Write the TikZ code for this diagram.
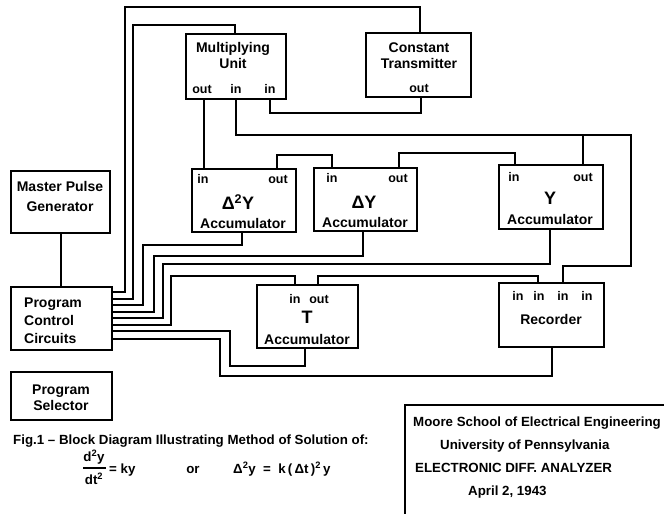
\documentclass[tikz,border=0pt]{standalone}
\usepackage{fontspec}
\setmainfont{Liberation Sans}
\newcommand{\mybox}[5]{\node[box, minimum width={(#4)-(#2)}, minimum height={(#5)-(#3)}] (#1) at ({((#2)+(#4))/2},{((#3)+(#5))/2}) {};}
\begin{document}
\begin{tikzpicture}[x=1pt,y=-1pt,
  box/.style={draw, line width=2.6pt, inner sep=0pt, outer sep=0pt},
  wire/.style={line width=1.9pt},
  lbl/.style={font=\bfseries\fontsize{14}{16}\selectfont, inner sep=0pt, text height=10pt, text depth=0pt},
  port/.style={font=\bfseries\fontsize{12.5}{14}\selectfont, inner sep=0pt, text height=9pt, text depth=0pt},
  big/.style={font=\bfseries\fontsize{18}{20}\selectfont, inner sep=0pt, text height=13pt, text depth=0pt},
  ttl/.style={font=\bfseries\fontsize{13.3}{15}\selectfont, inner sep=0pt, text height=9.5pt, text depth=0pt, anchor=west},
]
\useasboundingbox (0,0) rectangle (664,514);
\fill[white] (0,0) rectangle (664,514);

% boxes
\mybox{mpg}{11}{171}{110}{233}
\mybox{pcc}{11}{287}{112}{350}
\mybox{ps}{11}{372}{112}{420}
\mybox{mu}{186}{34}{286}{99}
\mybox{ct}{366}{33}{471}{97}
\mybox{dd}{192}{169}{296}{232}
\mybox{dy}{314}{168}{417}{231}
\mybox{ya}{499}{165}{603}{229}
\mybox{ta}{257}{285}{358}{348}
\mybox{rec}{499}{283}{604}{347}

% box texts
\node[lbl] (mpg1) at (60,186) {Master Pulse};
\node[lbl] (mpg2) at (60,206) {Generator};
\node[lbl,anchor=west] (pcc1) at (24,302) {Program};
\node[lbl,anchor=west] (pcc2) at (24,320) {Control};
\node[lbl,anchor=west] (pcc3) at (24,338) {Circuits};
\node[lbl] (ps1) at (61,389) {Program};
\node[lbl] (ps2) at (61,405) {Selector};

\node[lbl] (mu1) at (233,47) {Multiplying};
\node[lbl] (mu2) at (233,63) {Unit};
\node[port] (mup1) at (202,89) {out};
\node[port] (mup2) at (236,89) {in};
\node[port] (mup3) at (270,89) {in};

\node[lbl] (ct1) at (419,47) {Constant};
\node[lbl] (ct2) at (419,63) {Transmitter};
\node[port] (ctp) at (419,88) {out};

\node[port] (ddp1) at (203,179) {in};
\node[port] (ddp2) at (278,179) {out};
\node[big] (dd1) at (238,203) {Δ\textsuperscript{2}Y};
\node[lbl] (dd2) at (243,223) {Accumulator};

\node[port] (dyp1) at (332,178) {in};
\node[port] (dyp2) at (398,178) {out};
\node[big] (dy1) at (364,202) {ΔY};
\node[lbl] (dy2) at (365,222) {Accumulator};

\node[port] (yap1) at (514,177) {in};
\node[port] (yap2) at (583,177) {out};
\node[big] (ya1) at (550,198) {Y};
\node[lbl] (ya2) at (550,219) {Accumulator};

\node[port] (tap1) at (295,299) {in};
\node[port] (tap2) at (319,299) {out};
\node[big] (ta1) at (307,317) {T};
\node[lbl] (ta2) at (307,339) {Accumulator};

\node[port] (recp1) at (518,296) {in};
\node[port] (recp2) at (539,296) {in};
\node[port] (recp3) at (563,296) {in};
\node[port] (recp4) at (587,296) {in};
\node[lbl] (rec1) at (551,319) {Recorder};

% wires
\draw[wire] (mpg.south -| 61,0) -- (pcc.north -| 61,0);
\draw[wire] (pcc.east |- 0,292) -| (125,7) -| (ct.north -| 420,0);
\draw[wire] (pcc.east |- 0,299) -| (133,25) -| (mu.north -| 235,0);
\draw[wire] (pcc.east |- 0,305) -| (143,245) -| (dd.south -| 242,0);
\draw[wire] (pcc.east |- 0,312) -| (154,256) -| (dy.south -| 363,0);
\draw[wire] (pcc.east |- 0,318) -| (163,264) -| (ya.south -| 550,0);
\draw[wire] (pcc.east |- 0,325) -| (171,276) -| (ta.north -| 295,0);
\draw[wire] (pcc.east |- 0,331) -| (230,366) -| (ta.south -| 305,0);
\draw[wire] (pcc.east |- 0,339) -| (220,376) -| (rec.south -| 552,0);

\draw[wire] (mu.south -| 204,0) -- (dd.north -| 204,0);
\draw[wire] (dd.north -| 277,0) |- (332,155) -- (dy.north -| 332,0);
\draw[wire] (dy.north -| 399,0) |- (515,153) -- (ya.north -| 515,0);
\draw[wire] (ct.south -| 421,0) |- (270,113) -- (mu.south -| 270,0);
\coordinate (jn) at (583,135);
\draw[wire] (mu.south -| 236,0) |- (631,135) |- (563,266) -- (rec.north -| 563,0);
\draw[wire] (ya.north -| 583,0) -- (jn);
\draw[wire] (ta.north -| 318,0) |- (538,276) -- (rec.north -| 538,0);

% caption
\node[ttl] (cap) at (13,440) {Fig.1 – Block Diagram Illustrating Method of Solution of:};
\node[ttl,anchor=center] (num) at (94,457) {d\textsuperscript{2}y};
\node[ttl,anchor=center] (den) at (94,480) {dt\textsuperscript{2}};
\draw[line width=1.7pt] (83,468) -- (106,468);
\node[ttl] (eq1) at (109,469) {= ky};
\node[ttl,anchor=center] (orw) at (193,469) {or};
\node[ttl] (eq2) at (233,469) {Δ\textsuperscript{2}y \;=\; k\,(\,Δt\,)\textsuperscript{2}\,y};

% title block
\draw[line width=2pt] (664,405) -- (405,405) -- (405,514);
\node[ttl] (t1) at (413,422) {Moore School of Electrical Engineering};
\node[ttl] (t2) at (440,445) {University of Pennsylvania};
\node[ttl] (t3) at (415,468) {ELECTRONIC DIFF. ANALYZER};
\node[ttl] (t4) at (468,491) {April 2, 1943};
\end{tikzpicture}
\end{document}
